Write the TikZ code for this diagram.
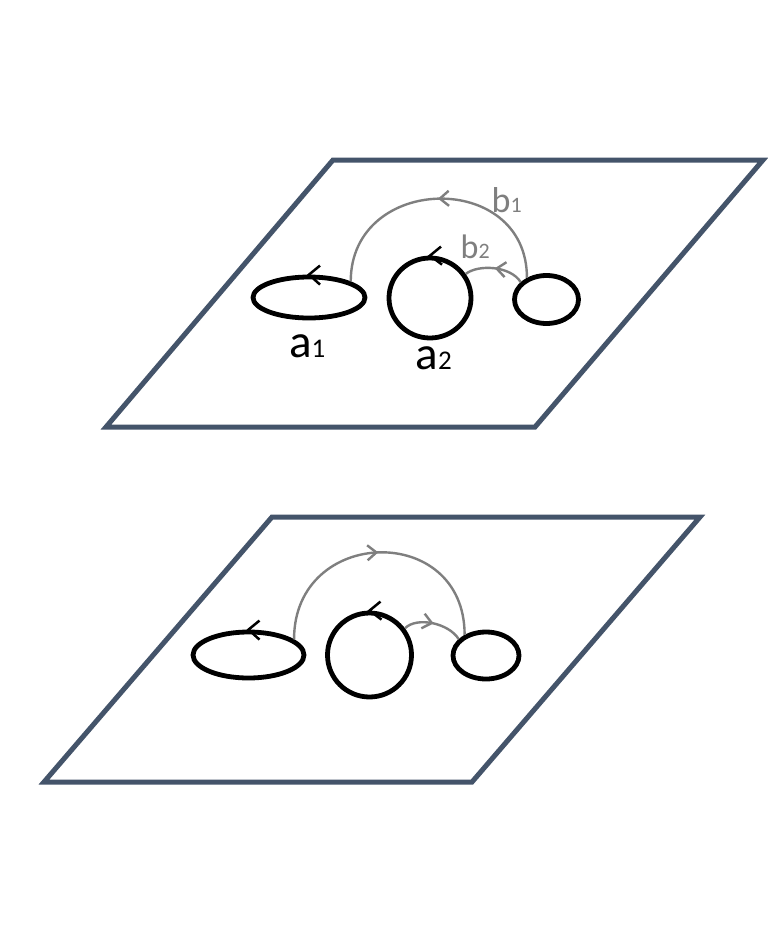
\documentclass[tikz,border=0pt]{standalone}
\usepackage{fontspec}
\setmainfont{Carlito}
\usetikzlibrary{shapes.geometric,arrows.meta,decorations.markings}
\definecolor{planecol}{HTML}{44546A}
\definecolor{arcgray}{HTML}{7F7F7F}
\newcommand{\lblA}[2]{{\fontsize{47}{47}\selectfont #1}{\fontsize{27}{27}\selectfont #2}}
\newcommand{\lblB}[3]{{\fontsize{#3}{#3}\selectfont #1}{\fontsize{22}{22}\selectfont #2}}
\begin{document}
\begin{tikzpicture}[x=1pt,y=-1pt,
  plane/.style={draw=planecol,line width=5pt,line join=miter},
  loopnode/.style={draw=black,line width=4.8pt,ellipse,inner sep=0pt,minimum width=#1},
  chevk/.style={draw=black,line width=2.5pt},
  garc/.style={draw=arcgray,line width=2.4pt},
  midarrow/.style={postaction={decorate},decoration={markings,
     mark=at position 0.5 with {\arrow[arcgray,line width=2.4pt]{Straight Barb[length=9pt,width=15pt]}}}},
  lbl/.style={inner sep=0pt,anchor=base west}
]
\useasboundingbox (0,0) rectangle (768,932);
\fill[white] (0,0) rectangle (768,932);

% ---------- top plane ----------
\draw[plane] (333,160) -- (763,160) -- (535,427) -- (106,427) -- cycle;
\node[loopnode=112pt,minimum height=41pt] (ta1) at (309,297.5) {};
\node[loopnode=82pt,minimum height=80pt] (ta2) at (430,298) {};
\node[loopnode=64pt,minimum height=48pt] (tc) at (546.5,299.5) {};

\draw[garc,midarrow] (tc.132) .. controls +(0,-108) and +(0,-108) .. (ta1.21);
\draw[garc,midarrow] (tc.146) .. controls +(-10,-16) and +(13,-10) .. (ta2.34);

\draw[chevk] (ta1.north) ++(11,-9) -- ++(-11,9) -- ++(11,10);
\draw[chevk] (ta2.north) ++(11,-9) -- ++(-11,9) -- ++(12,9);

\node[lbl] (la1) at (289,357) {\lblA{a}{1}};
\node[lbl] (la2) at (415.5,369) {\lblA{a}{2}};
\node[lbl,text=arcgray] (lb1) at (491.5,212) {\lblB{b}{1}{36}};
\node[lbl,text=arcgray] (lb2) at (460.5,258) {\lblB{b}{2}{34}};

% ---------- bottom plane ----------
\draw[plane] (272,517) -- (700,517) -- (472,782) -- (44,782) -- cycle;
\node[loopnode=111pt,minimum height=46pt] (ba1) at (248.5,655) {};
\node[loopnode=84pt,minimum height=84pt] (ba2) at (369.5,655) {};
\node[loopnode=66pt,minimum height=47pt] (bc) at (486,655.5) {};

\draw[garc,midarrow] (ba1.19) .. controls +(0,-113) and +(0,-113) .. (bc.136);
\draw[garc,midarrow] (ba2.37) .. controls +(12,-12) and +(-10,-16) .. (bc.149);

\draw[chevk] (ba1.north) ++(11,-9) -- ++(-11,9) -- ++(11,10);
\draw[chevk] (ba2.north) ++(11,-9) -- ++(-11,9) -- ++(12,9);
\end{tikzpicture}
\end{document}
